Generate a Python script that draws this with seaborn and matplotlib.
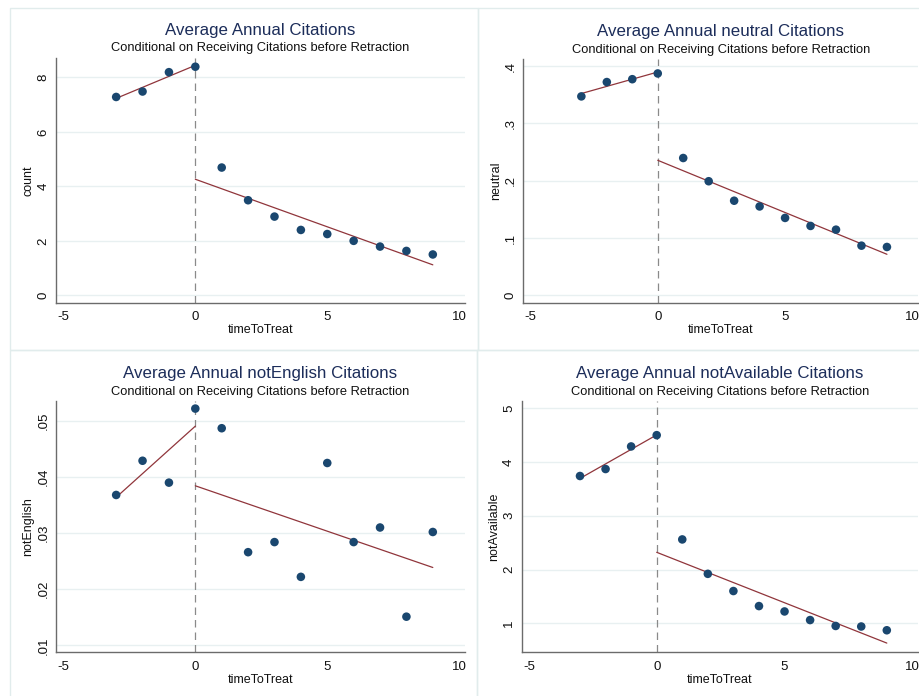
import numpy as np
import pandas as pd
import matplotlib
matplotlib.use("Agg")
import matplotlib.pyplot as plt
from matplotlib.patches import Rectangle
from matplotlib.ticker import FuncFormatter
import seaborn as sns

# event time relative to retraction
time_to_treat = [-3, -2, -1, 0, 1, 2, 3, 4, 5, 6, 7, 8, 9]

# average annual citations by type
count_vals = [7.28, 7.48, 8.19, 8.39, 4.69, 3.49, 2.89, 2.40, 2.25, 2.00, 1.79, 1.63, 1.50]
neutral_vals = [0.347, 0.372, 0.377, 0.387, 0.2395, 0.199, 0.165, 0.155, 0.135, 0.121, 0.1145, 0.0866, 0.0843]
not_english_vals = [0.0368, 0.0429, 0.0390, 0.0522, 0.0487, 0.0266, 0.0284, 0.0222, 0.0425, 0.0284, 0.0310, 0.0151, 0.0302]
not_available_vals = [3.74, 3.87, 4.29, 4.50, 2.56, 1.92, 1.60, 1.32, 1.22, 1.06, 0.95, 0.94, 0.87]

TITLE_COLOR = "#1c2d5a"
DOT_COLOR = "#1a476f"
FIT_COLOR = "#90353b"
GRID_COLOR = "#e8f0f1"
FRAME_COLOR = "#e1ecec"

sns.set_style("white")
plt.rcParams["font.family"] = ["Liberation Sans", "DejaVu Sans"]
plt.rcParams["axes.unicode_minus"] = False

W, H = 920, 696
fig = plt.figure(figsize=(9.2, 6.96), dpi=100)


def px_axes(left, top, right, bottom):
    # pixel box -> figure fraction
    return [left / W, 1 - bottom / H, (right - left) / W, (bottom - top) / H]


def stata_fmt(v, pos):
    s = f"{v:g}"
    if s.startswith("0.") and len(s) > 2:
        s = s[1:]
    return s


panels = [
    # name, values, title, box(px), ylim, yticks
    ("count", count_vals, "Average Annual Citations",
     (56, 58, 465, 302.7), (-0.27, 8.71), [0, 2, 4, 6, 8]),
    ("neutral", neutral_vals, "Average Annual neutral Citations",
     (523.3, 59.3, 918, 302.7), (-0.0129, 0.4117), [0, 0.1, 0.2, 0.3, 0.4]),
    ("notEnglish", not_english_vals, "Average Annual notEnglish Citations",
     (56, 401.3, 465, 652.3), (0.00875, 0.0535), [0.01, 0.02, 0.03, 0.04, 0.05]),
    ("notAvailable", not_available_vals, "Average Annual notAvailable Citations",
     (521.7, 401.3, 918, 652.3), (0.46, 5.13), [1, 2, 3, 4, 5]),
]

# panel frames (each original graph had its own light border)
for (l, t, r, b) in [(10, 8, 478, 350), (478, 8, 930, 350), (10, 350, 477, 700), (477, 350, 930, 700)]:
    fig.patches.append(Rectangle((l / W, 1 - b / H), (r - l) / W, (b - t) / H,
                                 transform=fig.transFigure, fill=False,
                                 edgecolor=FRAME_COLOR, linewidth=1.0))

for name, vals, title, box, ylim, yticks in panels:
    ax = fig.add_axes(px_axes(*box))
    width_px = box[2] - box[0]
    height_px = box[3] - box[1]
    df = pd.DataFrame({"timeToTreat": time_to_treat, name: vals})
    pre = df[df["timeToTreat"] <= 0]
    post = df[df["timeToTreat"] > 0]

    # linear fits: pre period over its own points, post period drawn from 0
    b_pre = np.polyfit(pre["timeToTreat"], pre[name], 1)
    b_post = np.polyfit(post["timeToTreat"], post[name], 1)
    fit_pre = pd.DataFrame({"x": [pre["timeToTreat"].min(), 0]})
    fit_pre["y"] = np.polyval(b_pre, fit_pre["x"])
    fit_post = pd.DataFrame({"x": [0, post["timeToTreat"].max()]})
    fit_post["y"] = np.polyval(b_post, fit_post["x"])

    ax.axvline(0, color="#8a8a8a", linestyle=(0, (6, 4)), linewidth=0.9, zorder=1)
    sns.lineplot(data=fit_pre, x="x", y="y", ax=ax, color=FIT_COLOR, linewidth=0.9, zorder=2)
    sns.lineplot(data=fit_post, x="x", y="y", ax=ax, color=FIT_COLOR, linewidth=0.9, zorder=2)
    sns.scatterplot(data=df, x="timeToTreat", y=name, ax=ax, color=DOT_COLOR,
                    s=38, edgecolor="none", zorder=3)

    ax.set_xlim(-5.28, 10.22)
    ax.set_ylim(*ylim)
    ax.set_xticks([-5, 0, 5, 10])
    ax.set_yticks(yticks)
    ax.yaxis.set_major_formatter(FuncFormatter(stata_fmt))
    ax.grid(axis="y", color=GRID_COLOR, linewidth=1.0)
    ax.set_axisbelow(True)
    for side in ["top", "right"]:
        ax.spines[side].set_visible(False)
    for side in ["left", "bottom"]:
        ax.spines[side].set_color("#6b6b6b")
        ax.spines[side].set_linewidth(1.0)
    ax.tick_params(axis="both", direction="out", length=4, width=0.8, color="#6b6b6b",
                   labelsize=9.5, labelcolor="#111111", pad=2)
    ax.tick_params(axis="y", labelrotation=90, pad=0.8)
    for lab in ax.get_yticklabels():
        lab.set_va("center")
    ax.set_xlabel("timeToTreat", fontsize=9, labelpad=1, color="#111111")
    ax.set_ylabel(name, fontsize=9, color="#111111", va="center")
    ax.yaxis.set_label_coords(-27.5 / width_px, 0.5)

    ax.text(0.5, 1 + 28 / height_px, title, transform=ax.transAxes,
            ha="center", va="center", fontsize=12.2, color=TITLE_COLOR)
    ax.text(0.5, 1 + 9.5 / height_px, "Conditional on Receiving Citations before Retraction",
            transform=ax.transAxes, ha="center", va="center", fontsize=9.3, color="#111111")

fig.savefig("out.png", dpi=100, facecolor="white")
